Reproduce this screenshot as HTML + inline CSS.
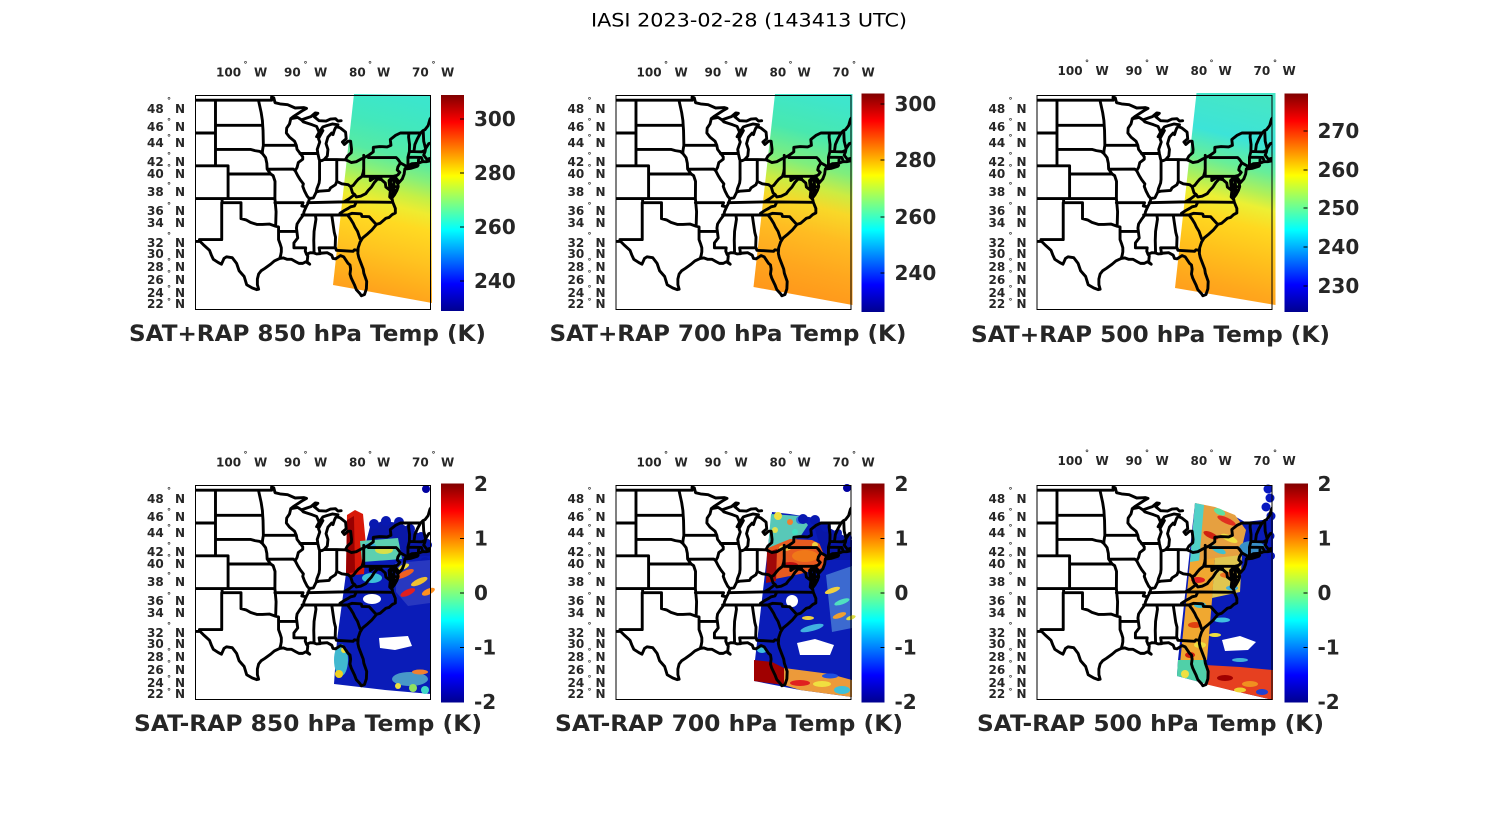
<!DOCTYPE html>
<html>
<head>
<meta charset="utf-8">
<style>
html,body{margin:0;padding:0;background:#fff;}
svg{display:block;}
.s{font-family:"DejaVu Sans","Liberation Sans",sans-serif;font-weight:bold;font-size:12px;fill:#262626;}
.d{font-family:"DejaVu Sans","Liberation Sans",sans-serif;font-weight:bold;font-size:8px;fill:#262626;}
.c{font-family:"DejaVu Sans","Liberation Sans",sans-serif;font-weight:bold;font-size:20px;fill:#262626;}
.t{font-family:"DejaVu Sans","Liberation Sans",sans-serif;font-weight:bold;font-size:22px;fill:#262626;}
.m{font-family:"DejaVu Sans","Liberation Sans",sans-serif;font-size:19px;fill:#000;}
</style>
</head>
<body>
<svg width="1500" height="825" viewBox="0 0 1500 825" xmlns="http://www.w3.org/2000/svg">
<defs>
<path id="map" fill="none" stroke="#000" stroke-width="2.9" stroke-linejoin="round" stroke-linecap="round" vector-effect="non-scaling-stroke" d="M-108 49L-95.15 49L-95.15 49.38L-94.8 49.3L-94.6 48.7L-93.8 48.55L-92.6 48.45L-91.4 48.05L-90 48.1L-89.6 48L-90.3 47.7L-91.6 47.05L-92.1 46.75L-91 46.9L-90.4 46.6L-89.5 46.85L-88.9 47L-88.2 47.45L-87.8 47.4L-88.4 47L-87.6 46.5L-86.5 46.45L-85.8 46.7L-85 46.75L-84.6 46.45L-84.1 46.5
M-84.6 46L-85.5 46.1L-86.4 45.9L-87 45.75L-87.6 45.1L-88 44.55L-87.5 44.9L-87 45.3L-87.5 44.6L-87.7 44.3L-87.5 43.9L-87.9 43L-87.8 42.5L-87.6 41.8L-87.5 41.65L-87.2 41.62L-86.8 41.76L-86.3 42.2L-86.2 43L-86.5 43.7L-86.2 44.5L-85.6 45L-85.4 44.8L-85.2 45.3L-85 45.65L-84.75 45.78L-84.2 45.6L-83.4 45.1L-83.3 44.3L-83.9 43.9L-83.6 43.6L-83 44L-82.6 44L-82.45 43L-82.5 42.6L-83.1 42.2L-83.45 41.73L-83 41.6L-82.5 41.4L-81.7 41.5L-81 41.8L-80.5 41.98L-79.8 42.25L-79 42.7L-79 43.25L-78 43.35L-76.8 43.3L-76.2 43.5L-76.3 44.2L-75.5 44.7L-74.7 45L-71.5 45L-71.1 45.3L-70.8 45.4L-70.3 45.9L-70 46.7L-69.3 47.45L-68.3 47.35L-67.8 47.1L-67.8 45.7L-67.1 45.1
M-87.6 45.1L-88 45.8L-88.7 46L-90.1 46.35L-90.4 46.6
M-67.1 45.1L-68 44.4L-69 44L-70.2 43.7L-70.7 43.1L-70.8 42.7L-71 42.3L-70.5 41.8L-70 41.9L-70 41.6L-70.6 41.5L-71.2 41.5L-71.9 41.3L-72.9 41.25L-73.7 40.9L-74 40.6L-74.1 40L-74.4 39.4L-74.95 38.93L-75.1 39.2L-75.5 39.6L-75.6 39.5L-75.2 38.9L-75.1 38.8L-75.05 38.45L-75.25 38L-75.65 37.45L-76 37.1L-75.9 37.6L-75.7 38.2L-76.3 38.2L-76 38.6L-76.3 38.9L-76.1 39.5L-76.5 39.2L-76.4 38.4L-76.3 37.9L-76.4 37.2L-76 36.9L-75.9 36.55L-75.5 35.8L-75.5 35.25L-76 35.05L-76.5 34.7L-77 34.6L-77.9 34L-78.5 33.85L-79.2 33.2L-79.9 32.7L-80.7 32.2L-81.1 31.7L-81.4 31L-81.45 30.3L-81.3 29.8L-81 29.2L-80.6 28.4L-80.5 27.9L-80.05 26.9L-80.1 26L-80.4 25.3L-80.9 25.15L-81.1 25.4L-81.7 25.9L-82 26.5L-82.5 27.3L-82.7 27.8L-82.6 28.4L-82.7 28.9L-83 29.1L-83.7 29.9L-84.2 30.05L-84.5 29.9L-85 29.65L-85.4 29.7L-85.6 30.1L-86.3 30.4L-87.2 30.35L-87.5 30.28L-88 30.25L-88.4 30.37L-89 30.4L-89.6 30.2L-89.4 30L-89.5 29.3L-89.1 29L-89.7 29.3L-90.2 29.1L-90.8 29.1L-91.3 29.3L-92 29.6L-92.7 29.6L-93.3 29.77L-93.85 29.7L-94.7 29.4L-95.3 29L-96.2 28.5L-96.8 28.2L-97.2 27.8L-97.4 27.2L-97.4 26.5L-97.2 25.95L-97.5 25.9L-98.2 26.1L-99.1 26.5L-99.5 27.5L-100.3 28.2L-100.7 29.1L-101.4 29.8L-102.3 29.9L-102.7 29.7L-103.1 29L-103.6 29.2L-104.4 29.6L-104.7 30.1L-105 30.7L-106 31.4L-106.5 31.78L-108 31.78
M-104.05 49L-104.05 41M-108 45L-104.05 45M-108 41L-102.05 41L-102.05 37M-108 37L-94.62 37M-103 37L-103 36.5L-100 36.5L-100 34.56M-106.6 32L-103.06 32L-103.06 36.5
M-100 34.56L-99.2 34.4L-98.5 34.1L-97.5 33.85L-96.6 33.85L-95.5 33.9L-94.5 33.63L-94.04 33.55L-94.04 32L-93.8 31.5L-93.6 31L-93.6 30.5L-93.7 30.1L-93.85 29.7
M-94.62 37L-94.43 35.4L-94.5 33.63M-104.05 45.94L-96.56 45.94
M-97.23 49L-96.8 47.5L-96.6 46.5L-96.56 45.94L-96.5 45.3L-96.45 43.5L-96.6 42.8L-96.6 42.5
M-104.05 43L-98.5 43L-97.8 42.85L-97 42.75L-96.6 42.5L-96.1 42L-95.9 41.3L-95.85 40.6L-95.3 40L-94.9 39.8L-94.6 39.1L-94.62 37
M-96.45 43.5L-91.22 43.5M-102.05 40L-95.3 40M-95.77 40.58L-91.7 40.6L-91.4 40.4
M-92.1 46.75L-92.3 46.1L-92.75 45.6L-92.8 45L-92.3 44.5L-91.5 44L-91.22 43.5L-91.1 43L-90.6 42.5L-90.2 42.1L-90.2 41.8L-90.9 41.4L-91.1 40.8L-91.4 40.4L-91 39.8L-90.6 39.3L-90.1 38.8L-90.2 38.5L-89.9 37.9L-89.5 37.3L-89.15 37L-89.3 36.5L-89.6 36.1L-90 35.4L-90.1 35L-90.6 34.5L-91.1 33.9L-91.2 33.4L-91.1 32.8L-91 32.2L-91.6 31.6L-91.6 31L-89.73 31L-89.8 30.6L-89.6 30.2
M-94.04 33L-91.15 33M-94.62 36.5L-90.15 36.5L-90.35 36.1L-89.7 36M-90.64 42.5L-87.8 42.5
M-87.53 41.7L-87.53 39.35L-87.6 38.9L-87.95 38.2L-88.05 37.8
M-89.15 37L-88.5 37.1L-88.05 37.8L-87.6 37.9L-86.8 37.95L-86 38L-85.8 38.3L-85 38.7L-84.8 39.1L-84 38.8L-83 38.7L-82.6 38.45L-82.2 38.6L-81.8 39L-81.4 39.35L-80.8 39.7L-80.6 40.2L-80.52 40.64
M-84.8 39.1L-84.8 41.7M-86.82 41.76L-84.8 41.76L-83.45 41.73M-80.52 39.72L-80.52 42.27
M-79.76 42.27L-79.76 42L-75.36 42L-75.1 41.8L-74.7 41.36L-75.1 40.85L-75.2 40.5L-74.8 40.2L-75.1 39.9L-75.5 39.7
M-74.7 41.36L-73.9 41M-80.52 39.72L-75.79 39.72L-75.4 39.8
M-79.48 39.72L-79.48 39.2L-79 39.45L-78.4 39.6L-77.8 39.5L-77.7 39.3L-78.3 39.4L-78.8 39L-79.3 38.4L-79.8 38L-80.2 37.6L-81 37.3L-81.7 37.2L-81.95 37.5L-82.3 37.7L-82.6 38.45
M-77.7 39.3L-77.1 38.9L-77 38.4L-76.3 38M-81.95 37.5L-82.8 37L-83.68 36.6
M-89.4 36.5L-83.68 36.6L-81.68 36.59L-75.9 36.55
M-81.68 36.59L-82 36.1L-82.6 36L-83 35.8L-83.6 35.55L-84.3 35.2L-84.32 35
M-90.3 35L-83.1 35L-82.4 35.2L-81.05 35.15L-80.9 35.1L-80.8 34.82L-79.67 34.8L-78.55 33.86
M-83.1 35L-82.6 34.5L-82.2 34L-81.9 33.5L-81.5 33L-81.1 32.1
M-88.2 35L-88.1 34.5L-88.4 33L-88.45 31.9L-88.4 30.37M-85.6 35L-85.2 32.9L-85 32.3L-85.05 31
M-87.45 30.3L-87.6 31L-85 31L-84.86 30.7L-82.2 30.57L-82 30.75L-81.5 30.7
M-73.35 45L-73.4 44.5L-73.25 43.6L-73.27 42.75L-73.5 42.05L-73.5 41.1L-73.65 41
M-73.27 42.75L-71.3 42.7L-70.9 42.85M-71.5 45L-72 44.3L-72.4 43.6L-72.55 42.73M-71.08 45.3L-71 44L-70.7 43.1
M-73.5 42.05L-71.38 42.02L-71.12 41.5M-71.8 42.02L-71.85 41.3
M-74 40.6L-73 40.7L-72 40.95L-71.9 41.05L-72.4 41L-73.3 40.95L-73.8 40.8
M-75.79 39.72L-75.7 38.45L-75.05 38.45M-75.24 38.03L-75.9 37.96"/>
<clipPath id="mc"><rect x="196" y="96" width="234" height="214"/></clipPath>
<linearGradient id="jet" x1="0" y1="1" x2="0" y2="0">
<stop offset="0" stop-color="#00008f"/><stop offset="0.125" stop-color="#0000ff"/><stop offset="0.375" stop-color="#00ffff"/><stop offset="0.625" stop-color="#ffff00"/><stop offset="0.875" stop-color="#ff0000"/><stop offset="1" stop-color="#800000"/>
</linearGradient>
<linearGradient id="g1" x1="0.56" y1="0" x2="0.44" y2="1">
<stop offset="0" stop-color="#3ce6cc"/><stop offset="0.14" stop-color="#42e8bc"/><stop offset="0.28" stop-color="#56eaa4"/><stop offset="0.37" stop-color="#88f078"/><stop offset="0.45" stop-color="#c4f046"/><stop offset="0.52" stop-color="#eeec30"/><stop offset="0.6" stop-color="#ffda22"/><stop offset="0.75" stop-color="#ffc420"/><stop offset="0.88" stop-color="#ffae1c"/><stop offset="1" stop-color="#ff9a1c"/>
</linearGradient>
<linearGradient id="g2" x1="0.56" y1="0" x2="0.44" y2="1">
<stop offset="0" stop-color="#3ee6cc"/><stop offset="0.18" stop-color="#48e8b0"/><stop offset="0.33" stop-color="#80ee7c"/><stop offset="0.43" stop-color="#ccec42"/><stop offset="0.52" stop-color="#f8d828"/><stop offset="0.65" stop-color="#ffbc22"/><stop offset="0.82" stop-color="#ffa61e"/><stop offset="1" stop-color="#ff941a"/>
</linearGradient>
<linearGradient id="g3" x1="0.56" y1="0" x2="0.44" y2="1">
<stop offset="0" stop-color="#46e6c6"/><stop offset="0.2" stop-color="#3ce4d8"/><stop offset="0.33" stop-color="#68ee98"/><stop offset="0.43" stop-color="#b0f058"/><stop offset="0.5" stop-color="#ecf034"/><stop offset="0.6" stop-color="#ffd820"/><stop offset="0.75" stop-color="#ffc01c"/><stop offset="0.9" stop-color="#ffa81c"/><stop offset="1" stop-color="#ff9c1c"/>
</linearGradient>
</defs>

<rect width="1500" height="825" fill="#fff"/>
<text class="m" x="749" y="26.5" text-anchor="middle" textLength="316" lengthAdjust="spacingAndGlyphs">IASI 2023-02-28 (143413 UTC)</text>

<!-- panel 4 data -->
<polygon points="347,566 365,560 400,557 431,555 431,694 385,690 334,684 337,640" fill="#0a1cb8"/>
<polygon points="366,542 370,527 382,521 400,523 411,529 430,540 430,556 400,557 366,560" fill="#0a18a8"/>
<g fill="#0818b0"><circle cx="374" cy="524" r="5"/><circle cx="386" cy="521" r="5"/><circle cx="399" cy="522" r="5"/><circle cx="410" cy="529" r="5"/><circle cx="421" cy="536" r="4"/><circle cx="428" cy="545" r="4"/><circle cx="425" cy="562" r="5"/></g>
<polygon points="347,515 355,510 363,514 366,545 364,574 346,576" fill="#d81808"/>
<polygon points="347,520 354,516 355,572 346,574" fill="#980000"/>
<polygon points="360,541 398,538 402,559 362,562" fill="#5cd0b0"/>
<ellipse cx="384" cy="550" rx="9" ry="4" fill="#d8e048"/>
<ellipse cx="370" cy="546" rx="6" ry="3" fill="#3cb0e0"/>
<ellipse cx="372" cy="578" rx="10" ry="5" fill="#3cc0d8"/>
<polygon points="395,563 430,560 430,603 408,606 396,592" fill="#2838c0"/>
<g transform="rotate(-25 412 585)">
<ellipse cx="410" cy="572" rx="10" ry="3" fill="#f06020"/><ellipse cx="420" cy="585" rx="9" ry="3" fill="#f0c030"/><ellipse cx="405" cy="590" rx="8" ry="3" fill="#e02020"/><ellipse cx="424" cy="598" rx="7" ry="3" fill="#ff9020"/><ellipse cx="412" cy="565" rx="6" ry="2.5" fill="#f0e040"/>
</g>
<ellipse cx="372" cy="599" rx="9" ry="5" fill="#fff"/>
<polygon points="379,638 408,636 412,646 395,650 380,648" fill="#fff"/>
<ellipse cx="341" cy="660" rx="7" ry="16" fill="#40b8d0"/>
<circle cx="339" cy="674" r="4" fill="#f0d020"/><circle cx="344" cy="650" r="3" fill="#f0e040"/>
<ellipse cx="410" cy="679" rx="18" ry="7" fill="#4898c8"/>
<circle cx="398" cy="686" r="3" fill="#f0e040"/><circle cx="413" cy="688" r="4" fill="#90e060"/><circle cx="425" cy="690" r="4" fill="#40d8c8"/>
<ellipse cx="420" cy="672" rx="8" ry="2.5" fill="#f08030"/>
<circle cx="426" cy="489" r="4" fill="#0000a0"/>

<!-- panel 5 data -->
<polygon points="772,512 790,514 815,518 835,532 852,540 852,697 800,690 754,681 755,660" fill="#0a1cb8"/>
<polygon points="771,514 800,516 808,525 800,537 782,546 768,548" fill="#58c8b8"/>
<circle cx="778" cy="516" r="4" fill="#f0e040"/><circle cx="790" cy="522" r="3" fill="#f08030"/><circle cx="800" cy="520" r="4" fill="#3070e0"/><circle cx="775" cy="530" r="3" fill="#e0e050"/><circle cx="795" cy="532" r="3" fill="#40e0c0"/>
<polygon points="768,548 790,539 812,540 826,547 823,568 800,574 770,580" fill="#e85a20"/>
<polygon points="767,552 777,549 776,581 766,583" fill="#a00808"/>
<ellipse cx="805" cy="556" rx="13" ry="6" fill="#f07818"/>
<ellipse cx="790" cy="565" rx="8" ry="3" fill="#c01010"/>
<circle cx="815" cy="545" r="3" fill="#f0d040"/>
<ellipse cx="785" cy="548" rx="6" ry="3" fill="#f0c040"/>
<polygon points="812,518 835,531 852,540 852,560 826,560 818,540" fill="#0816a8"/>
<g fill="#0818b0"><circle cx="803" cy="519" r="5"/><circle cx="815" cy="520" r="5"/><circle cx="826" cy="527" r="5"/><circle cx="838" cy="533" r="4"/><circle cx="848" cy="538" r="4"/></g>
<polygon points="826,575 852,566 852,628 832,632" fill="#3c6ad0"/>
<g transform="rotate(-20 842 605)">
<ellipse cx="838" cy="588" rx="8" ry="2.5" fill="#f0d040"/><ellipse cx="843" cy="602" rx="8" ry="2.5" fill="#50e0c0"/><ellipse cx="836" cy="614" rx="7" ry="2.5" fill="#f0a030"/><ellipse cx="846" cy="620" rx="5" ry="2" fill="#e0e040"/>
</g>
<ellipse cx="812" cy="628" rx="12" ry="3" fill="#40b0e0" transform="rotate(-15 812 628)"/>
<ellipse cx="808" cy="618" rx="6" ry="2" fill="#f0d040"/>
<circle cx="792" cy="601" r="6" fill="#fff"/>
<polygon points="797,643 815,639 834,645 830,655 800,655" fill="#fff"/>
<polygon points="754,660 772,662 786,669 784,685 754,681" fill="#a00000"/>
<polygon points="784,668 830,674 852,680 852,697 800,690 784,685" fill="#ec9a3a"/>
<ellipse cx="800" cy="683" rx="10" ry="3" fill="#e02020"/>
<ellipse cx="822" cy="684" rx="9" ry="3" fill="#f0e040"/>
<ellipse cx="842" cy="690" rx="8" ry="4" fill="#40c0d8"/>
<ellipse cx="830" cy="676" rx="8" ry="2.5" fill="#2050e0"/>
<ellipse cx="762" cy="650" rx="5" ry="3" fill="#40c0e0"/>
<circle cx="847" cy="488" r="4" fill="#0000a0"/>

<!-- panel 6 data -->
<polygon points="1195,503 1227,512 1245,522 1262,520 1273,520 1273,700 1230,690 1177,676 1178,660" fill="#0a1cb8"/>
<g fill="#0818c0"><circle cx="1268" cy="489" r="4.5"/><circle cx="1270" cy="498" r="4.5"/><circle cx="1266" cy="507" r="4.5"/><circle cx="1271" cy="516" r="4.5"/><circle cx="1265" cy="526" r="4.5"/><circle cx="1270" cy="536" r="4.5"/><circle cx="1267" cy="546" r="4.5"/><circle cx="1271" cy="556" r="4"/></g>
<polygon points="1195,503 1215,507 1235,515 1246,530 1240,556 1215,560 1190,562" fill="#e6a040"/>
<polygon points="1195,503 1204,505 1199,562 1190,562" fill="#50d0c8"/>
<g transform="rotate(25 1222 535)">
<ellipse cx="1220" cy="520" rx="10" ry="3" fill="#e03020"/><ellipse cx="1230" cy="535" rx="9" ry="3" fill="#f0e040"/><ellipse cx="1212" cy="540" rx="8" ry="3" fill="#d02010"/><ellipse cx="1225" cy="550" rx="8" ry="3" fill="#40c0d0"/><ellipse cx="1210" cy="515" rx="6" ry="3" fill="#60e0a0"/>
</g>
<ellipse cx="1252" cy="548" rx="13" ry="7" fill="#3890c8"/>
<polygon points="1190,562 1215,558 1212,600 1207,660 1180,664" fill="#f0a830"/>
<ellipse cx="1198" cy="580" rx="7" ry="3" fill="#e02020"/>
<ellipse cx="1200" cy="605" rx="6" ry="3" fill="#40c0d0"/>
<ellipse cx="1195" cy="625" rx="7" ry="3" fill="#e04010"/>
<ellipse cx="1200" cy="645" rx="6" ry="3" fill="#f0e040"/>
<ellipse cx="1190" cy="655" rx="5" ry="3" fill="#d02010"/>
<polygon points="1215,558 1242,555 1240,592 1212,598" fill="#e0c650"/>
<ellipse cx="1228" cy="575" rx="8" ry="3" fill="#f07020"/>
<ellipse cx="1232" cy="588" rx="6" ry="2.5" fill="#40b0e0"/>
<ellipse cx="1222" cy="620" rx="8" ry="2.5" fill="#40c0e0"/>
<ellipse cx="1215" cy="635" rx="6" ry="2" fill="#f0e040"/>
<ellipse cx="1240" cy="660" rx="8" ry="2" fill="#40b0d8"/>
<polygon points="1205,665 1240,667 1273,670 1273,700 1230,690 1205,684" fill="#e64020"/>
<ellipse cx="1225" cy="678" rx="8" ry="3" fill="#a00000"/>
<ellipse cx="1250" cy="684" rx="8" ry="3" fill="#f09020"/>
<ellipse cx="1262" cy="692" rx="6" ry="3" fill="#2040d0"/>
<ellipse cx="1240" cy="690" rx="6" ry="2.5" fill="#f0d030"/>
<polygon points="1178,660 1206,660 1207,684 1177,676" fill="#50d0a8"/>
<circle cx="1185" cy="674" r="4" fill="#f0e040"/>
<polygon points="1222,640 1240,636 1256,642 1248,650 1225,651" fill="#fff"/>

<!-- PANEL 1 -->
<g transform="translate(0,0)">
<polygon points="354,94 431,95 432,303 333,285" fill="url(#g1)"/>
<g clip-path="url(#mc)"><use href="#map" transform="matrix(6.3 0 0 -8.2 871 502)"/></g>
<rect x="195.5" y="95.5" width="235" height="214" fill="none" stroke="#000" stroke-width="1"/>
<rect x="441" y="95" width="23" height="216" fill="url(#jet)"/>
<g stroke="#000" stroke-width="1"><line x1="460" y1="119" x2="464" y2="119"/><line x1="460" y1="173" x2="464" y2="173"/><line x1="460" y1="227" x2="464" y2="227"/><line x1="460" y1="281" x2="464" y2="281"/></g>
<text class="c"><tspan x="474" y="126">300</tspan><tspan x="474" y="180">280</tspan><tspan x="474" y="234">260</tspan><tspan x="474" y="288">240</tspan></text>
<text class="s"><tspan x="216" y="76.5">100</tspan><tspan x="254" y="76.5">W</tspan><tspan x="284" y="76.5">90</tspan><tspan x="314" y="76.5">W</tspan><tspan x="349" y="76.5">80</tspan><tspan x="377" y="76.5">W</tspan><tspan x="412" y="76.5">70</tspan><tspan x="441" y="76.5">W</tspan></text>
<text class="d"><tspan x="243.5" y="67">°</tspan><tspan x="303.5" y="67">°</tspan><tspan x="368" y="67">°</tspan><tspan x="431.5" y="67">°</tspan></text>
<text class="s"><tspan x="147" y="113">48</tspan><tspan x="175" y="113">N</tspan><tspan x="147" y="131">46</tspan><tspan x="175" y="131">N</tspan><tspan x="147" y="147">44</tspan><tspan x="175" y="147">N</tspan><tspan x="147" y="166">42</tspan><tspan x="175" y="166">N</tspan><tspan x="147" y="178">40</tspan><tspan x="175" y="178">N</tspan><tspan x="147" y="196">38</tspan><tspan x="175" y="196">N</tspan><tspan x="147" y="215">36</tspan><tspan x="175" y="215">N</tspan><tspan x="147" y="227">34</tspan><tspan x="175" y="227">N</tspan><tspan x="147" y="247">32</tspan><tspan x="175" y="247">N</tspan><tspan x="147" y="258">30</tspan><tspan x="175" y="258">N</tspan><tspan x="147" y="271">28</tspan><tspan x="175" y="271">N</tspan><tspan x="147" y="284">26</tspan><tspan x="175" y="284">N</tspan><tspan x="147" y="297">24</tspan><tspan x="175" y="297">N</tspan><tspan x="147" y="308">22</tspan><tspan x="175" y="308">N</tspan></text>
<text class="d"><tspan x="167" y="103">°</tspan><tspan x="167" y="124">°</tspan><tspan x="167" y="140">°</tspan><tspan x="167" y="158">°</tspan><tspan x="167" y="170">°</tspan><tspan x="167" y="188">°</tspan><tspan x="167" y="208">°</tspan><tspan x="167" y="238">°</tspan><tspan x="167" y="264">°</tspan><tspan x="167" y="276">°</tspan><tspan x="167" y="291">°</tspan><tspan x="167" y="304">°</tspan></text>
<text class="t" x="307.5" y="341" text-anchor="middle" textLength="357" lengthAdjust="spacingAndGlyphs">SAT+RAP 850 hPa Temp (K)</text>
</g>

<!-- PANEL 2 -->
<g transform="translate(420.5,0)">
<polygon points="354.5,94 432,94 432,305 333,287" fill="url(#g2)"/>
<g clip-path="url(#mc)"><use href="#map" transform="matrix(6.3 0 0 -8.2 871 502)"/></g>
<rect x="195.5" y="95.5" width="235" height="214" fill="none" stroke="#000" stroke-width="1"/>
<rect x="441" y="93.5" width="23" height="218.5" fill="url(#jet)"/>
<g stroke="#000" stroke-width="1"><line x1="460" y1="104" x2="464" y2="104"/><line x1="460" y1="160" x2="464" y2="160"/><line x1="460" y1="217" x2="464" y2="217"/><line x1="460" y1="273" x2="464" y2="273"/></g>
<text class="c"><tspan x="474" y="111">300</tspan><tspan x="474" y="167">280</tspan><tspan x="474" y="224">260</tspan><tspan x="474" y="280">240</tspan></text>
<text class="s"><tspan x="216" y="76.5">100</tspan><tspan x="254" y="76.5">W</tspan><tspan x="284" y="76.5">90</tspan><tspan x="314" y="76.5">W</tspan><tspan x="349" y="76.5">80</tspan><tspan x="377" y="76.5">W</tspan><tspan x="412" y="76.5">70</tspan><tspan x="441" y="76.5">W</tspan></text>
<text class="d"><tspan x="243.5" y="67">°</tspan><tspan x="303.5" y="67">°</tspan><tspan x="368" y="67">°</tspan><tspan x="431.5" y="67">°</tspan></text>
<text class="s"><tspan x="147" y="113">48</tspan><tspan x="175" y="113">N</tspan><tspan x="147" y="131">46</tspan><tspan x="175" y="131">N</tspan><tspan x="147" y="147">44</tspan><tspan x="175" y="147">N</tspan><tspan x="147" y="166">42</tspan><tspan x="175" y="166">N</tspan><tspan x="147" y="178">40</tspan><tspan x="175" y="178">N</tspan><tspan x="147" y="196">38</tspan><tspan x="175" y="196">N</tspan><tspan x="147" y="215">36</tspan><tspan x="175" y="215">N</tspan><tspan x="147" y="227">34</tspan><tspan x="175" y="227">N</tspan><tspan x="147" y="247">32</tspan><tspan x="175" y="247">N</tspan><tspan x="147" y="258">30</tspan><tspan x="175" y="258">N</tspan><tspan x="147" y="271">28</tspan><tspan x="175" y="271">N</tspan><tspan x="147" y="284">26</tspan><tspan x="175" y="284">N</tspan><tspan x="147" y="297">24</tspan><tspan x="175" y="297">N</tspan><tspan x="147" y="308">22</tspan><tspan x="175" y="308">N</tspan></text>
<text class="d"><tspan x="167" y="103">°</tspan><tspan x="167" y="124">°</tspan><tspan x="167" y="140">°</tspan><tspan x="167" y="158">°</tspan><tspan x="167" y="170">°</tspan><tspan x="167" y="188">°</tspan><tspan x="167" y="208">°</tspan><tspan x="167" y="238">°</tspan><tspan x="167" y="264">°</tspan><tspan x="167" y="276">°</tspan><tspan x="167" y="291">°</tspan><tspan x="167" y="304">°</tspan></text>
<text class="t" x="307.5" y="341" text-anchor="middle" textLength="357" lengthAdjust="spacingAndGlyphs">SAT+RAP 700 hPa Temp (K)</text>
</g>

<!-- PANEL 3 -->
<g transform="translate(841.5,0)">
<polygon points="355,93 434,93 434,305 333.5,288" fill="url(#g3)"/>
<g clip-path="url(#mc)"><use href="#map" transform="matrix(6.3 0 0 -8.2 871 502)"/></g>
<rect x="195.5" y="95.5" width="235" height="214" fill="none" stroke="#000" stroke-width="1"/>
<rect x="443" y="93.5" width="23.5" height="218.5" fill="url(#jet)"/>
<g stroke="#000" stroke-width="1"><line x1="462" y1="131" x2="466" y2="131"/><line x1="462" y1="170" x2="466" y2="170"/><line x1="462" y1="208" x2="466" y2="208"/><line x1="462" y1="247" x2="466" y2="247"/><line x1="462" y1="286" x2="466" y2="286"/></g>
<text class="c"><tspan x="476" y="138">270</tspan><tspan x="476" y="177">260</tspan><tspan x="476" y="215">250</tspan><tspan x="476" y="254">240</tspan><tspan x="476" y="293">230</tspan></text>
<text class="s"><tspan x="216" y="75">100</tspan><tspan x="254" y="75">W</tspan><tspan x="284" y="75">90</tspan><tspan x="314" y="75">W</tspan><tspan x="349" y="75">80</tspan><tspan x="377" y="75">W</tspan><tspan x="412" y="75">70</tspan><tspan x="441" y="75">W</tspan></text>
<text class="d"><tspan x="243.5" y="65.5">°</tspan><tspan x="303.5" y="65.5">°</tspan><tspan x="368" y="65.5">°</tspan><tspan x="431.5" y="65.5">°</tspan></text>
<text class="s"><tspan x="147" y="113">48</tspan><tspan x="175" y="113">N</tspan><tspan x="147" y="131">46</tspan><tspan x="175" y="131">N</tspan><tspan x="147" y="147">44</tspan><tspan x="175" y="147">N</tspan><tspan x="147" y="166">42</tspan><tspan x="175" y="166">N</tspan><tspan x="147" y="178">40</tspan><tspan x="175" y="178">N</tspan><tspan x="147" y="196">38</tspan><tspan x="175" y="196">N</tspan><tspan x="147" y="215">36</tspan><tspan x="175" y="215">N</tspan><tspan x="147" y="227">34</tspan><tspan x="175" y="227">N</tspan><tspan x="147" y="247">32</tspan><tspan x="175" y="247">N</tspan><tspan x="147" y="258">30</tspan><tspan x="175" y="258">N</tspan><tspan x="147" y="271">28</tspan><tspan x="175" y="271">N</tspan><tspan x="147" y="284">26</tspan><tspan x="175" y="284">N</tspan><tspan x="147" y="297">24</tspan><tspan x="175" y="297">N</tspan><tspan x="147" y="308">22</tspan><tspan x="175" y="308">N</tspan></text>
<text class="d"><tspan x="167" y="103">°</tspan><tspan x="167" y="124">°</tspan><tspan x="167" y="140">°</tspan><tspan x="167" y="158">°</tspan><tspan x="167" y="170">°</tspan><tspan x="167" y="188">°</tspan><tspan x="167" y="208">°</tspan><tspan x="167" y="238">°</tspan><tspan x="167" y="264">°</tspan><tspan x="167" y="276">°</tspan><tspan x="167" y="291">°</tspan><tspan x="167" y="304">°</tspan></text>
<text class="t" x="309" y="342" text-anchor="middle" textLength="359" lengthAdjust="spacingAndGlyphs">SAT+RAP 500 hPa Temp (K)</text>
</g>

<!-- PANEL 4 -->
<g transform="translate(0,390)">
<g clip-path="url(#mc)"><use href="#map" transform="matrix(6.3 0 0 -8.2 871 502)"/></g>
<rect x="195.5" y="95.5" width="235" height="214" fill="none" stroke="#000" stroke-width="1"/>
<rect x="441" y="93.5" width="23" height="219" fill="url(#jet)"/>
<g stroke="#000" stroke-width="1"><line x1="460" y1="148.5" x2="464" y2="148.5"/><line x1="460" y1="203" x2="464" y2="203"/><line x1="460" y1="257.5" x2="464" y2="257.5"/></g>
<text class="c"><tspan x="474" y="101">2</tspan><tspan x="474" y="155.5">1</tspan><tspan x="474" y="210">0</tspan><tspan x="474" y="264.5">-1</tspan><tspan x="474" y="319">-2</tspan></text>
<text class="s"><tspan x="216" y="76.5">100</tspan><tspan x="254" y="76.5">W</tspan><tspan x="284" y="76.5">90</tspan><tspan x="314" y="76.5">W</tspan><tspan x="349" y="76.5">80</tspan><tspan x="377" y="76.5">W</tspan><tspan x="412" y="76.5">70</tspan><tspan x="441" y="76.5">W</tspan></text>
<text class="d"><tspan x="243.5" y="67">°</tspan><tspan x="303.5" y="67">°</tspan><tspan x="368" y="67">°</tspan><tspan x="431.5" y="67">°</tspan></text>
<text class="s"><tspan x="147" y="113">48</tspan><tspan x="175" y="113">N</tspan><tspan x="147" y="131">46</tspan><tspan x="175" y="131">N</tspan><tspan x="147" y="147">44</tspan><tspan x="175" y="147">N</tspan><tspan x="147" y="166">42</tspan><tspan x="175" y="166">N</tspan><tspan x="147" y="178">40</tspan><tspan x="175" y="178">N</tspan><tspan x="147" y="196">38</tspan><tspan x="175" y="196">N</tspan><tspan x="147" y="215">36</tspan><tspan x="175" y="215">N</tspan><tspan x="147" y="227">34</tspan><tspan x="175" y="227">N</tspan><tspan x="147" y="247">32</tspan><tspan x="175" y="247">N</tspan><tspan x="147" y="258">30</tspan><tspan x="175" y="258">N</tspan><tspan x="147" y="271">28</tspan><tspan x="175" y="271">N</tspan><tspan x="147" y="284">26</tspan><tspan x="175" y="284">N</tspan><tspan x="147" y="297">24</tspan><tspan x="175" y="297">N</tspan><tspan x="147" y="308">22</tspan><tspan x="175" y="308">N</tspan></text>
<text class="d"><tspan x="167" y="103">°</tspan><tspan x="167" y="124">°</tspan><tspan x="167" y="140">°</tspan><tspan x="167" y="158">°</tspan><tspan x="167" y="170">°</tspan><tspan x="167" y="188">°</tspan><tspan x="167" y="208">°</tspan><tspan x="167" y="238">°</tspan><tspan x="167" y="264">°</tspan><tspan x="167" y="276">°</tspan><tspan x="167" y="291">°</tspan><tspan x="167" y="304">°</tspan></text>
<text class="t" x="308" y="341" text-anchor="middle" textLength="348" lengthAdjust="spacingAndGlyphs">SAT-RAP 850 hPa Temp (K)</text>
</g>

<!-- PANEL 5 -->
<g transform="translate(420.5,390)">
<g clip-path="url(#mc)"><use href="#map" transform="matrix(6.3 0 0 -8.2 871 502)"/></g>
<rect x="195.5" y="95.5" width="235" height="214" fill="none" stroke="#000" stroke-width="1"/>
<rect x="441" y="93.5" width="23" height="219" fill="url(#jet)"/>
<g stroke="#000" stroke-width="1"><line x1="460" y1="148.5" x2="464" y2="148.5"/><line x1="460" y1="203" x2="464" y2="203"/><line x1="460" y1="257.5" x2="464" y2="257.5"/></g>
<text class="c"><tspan x="474" y="101">2</tspan><tspan x="474" y="155.5">1</tspan><tspan x="474" y="210">0</tspan><tspan x="474" y="264.5">-1</tspan><tspan x="474" y="319">-2</tspan></text>
<text class="s"><tspan x="216" y="76.5">100</tspan><tspan x="254" y="76.5">W</tspan><tspan x="284" y="76.5">90</tspan><tspan x="314" y="76.5">W</tspan><tspan x="349" y="76.5">80</tspan><tspan x="377" y="76.5">W</tspan><tspan x="412" y="76.5">70</tspan><tspan x="441" y="76.5">W</tspan></text>
<text class="d"><tspan x="243.5" y="67">°</tspan><tspan x="303.5" y="67">°</tspan><tspan x="368" y="67">°</tspan><tspan x="431.5" y="67">°</tspan></text>
<text class="s"><tspan x="147" y="113">48</tspan><tspan x="175" y="113">N</tspan><tspan x="147" y="131">46</tspan><tspan x="175" y="131">N</tspan><tspan x="147" y="147">44</tspan><tspan x="175" y="147">N</tspan><tspan x="147" y="166">42</tspan><tspan x="175" y="166">N</tspan><tspan x="147" y="178">40</tspan><tspan x="175" y="178">N</tspan><tspan x="147" y="196">38</tspan><tspan x="175" y="196">N</tspan><tspan x="147" y="215">36</tspan><tspan x="175" y="215">N</tspan><tspan x="147" y="227">34</tspan><tspan x="175" y="227">N</tspan><tspan x="147" y="247">32</tspan><tspan x="175" y="247">N</tspan><tspan x="147" y="258">30</tspan><tspan x="175" y="258">N</tspan><tspan x="147" y="271">28</tspan><tspan x="175" y="271">N</tspan><tspan x="147" y="284">26</tspan><tspan x="175" y="284">N</tspan><tspan x="147" y="297">24</tspan><tspan x="175" y="297">N</tspan><tspan x="147" y="308">22</tspan><tspan x="175" y="308">N</tspan></text>
<text class="d"><tspan x="167" y="103">°</tspan><tspan x="167" y="124">°</tspan><tspan x="167" y="140">°</tspan><tspan x="167" y="158">°</tspan><tspan x="167" y="170">°</tspan><tspan x="167" y="188">°</tspan><tspan x="167" y="208">°</tspan><tspan x="167" y="238">°</tspan><tspan x="167" y="264">°</tspan><tspan x="167" y="276">°</tspan><tspan x="167" y="291">°</tspan><tspan x="167" y="304">°</tspan></text>
<text class="t" x="308.5" y="341" text-anchor="middle" textLength="348" lengthAdjust="spacingAndGlyphs">SAT-RAP 700 hPa Temp (K)</text>
</g>

<!-- PANEL 6 -->
<g transform="translate(841.5,390)">
<g clip-path="url(#mc)"><use href="#map" transform="matrix(6.3 0 0 -8.2 871 502)"/></g>
<rect x="195.5" y="95.5" width="235" height="214" fill="none" stroke="#000" stroke-width="1"/>
<rect x="443" y="93.5" width="23.5" height="219" fill="url(#jet)"/>
<g stroke="#000" stroke-width="1"><line x1="462" y1="148.5" x2="466" y2="148.5"/><line x1="462" y1="203" x2="466" y2="203"/><line x1="462" y1="257.5" x2="466" y2="257.5"/></g>
<text class="c"><tspan x="476" y="101">2</tspan><tspan x="476" y="155.5">1</tspan><tspan x="476" y="210">0</tspan><tspan x="476" y="264.5">-1</tspan><tspan x="476" y="319">-2</tspan></text>
<text class="s"><tspan x="216" y="75">100</tspan><tspan x="254" y="75">W</tspan><tspan x="284" y="75">90</tspan><tspan x="314" y="75">W</tspan><tspan x="349" y="75">80</tspan><tspan x="377" y="75">W</tspan><tspan x="412" y="75">70</tspan><tspan x="441" y="75">W</tspan></text>
<text class="d"><tspan x="243.5" y="65.5">°</tspan><tspan x="303.5" y="65.5">°</tspan><tspan x="368" y="65.5">°</tspan><tspan x="431.5" y="65.5">°</tspan></text>
<text class="s"><tspan x="147" y="113">48</tspan><tspan x="175" y="113">N</tspan><tspan x="147" y="131">46</tspan><tspan x="175" y="131">N</tspan><tspan x="147" y="147">44</tspan><tspan x="175" y="147">N</tspan><tspan x="147" y="166">42</tspan><tspan x="175" y="166">N</tspan><tspan x="147" y="178">40</tspan><tspan x="175" y="178">N</tspan><tspan x="147" y="196">38</tspan><tspan x="175" y="196">N</tspan><tspan x="147" y="215">36</tspan><tspan x="175" y="215">N</tspan><tspan x="147" y="227">34</tspan><tspan x="175" y="227">N</tspan><tspan x="147" y="247">32</tspan><tspan x="175" y="247">N</tspan><tspan x="147" y="258">30</tspan><tspan x="175" y="258">N</tspan><tspan x="147" y="271">28</tspan><tspan x="175" y="271">N</tspan><tspan x="147" y="284">26</tspan><tspan x="175" y="284">N</tspan><tspan x="147" y="297">24</tspan><tspan x="175" y="297">N</tspan><tspan x="147" y="308">22</tspan><tspan x="175" y="308">N</tspan></text>
<text class="d"><tspan x="167" y="103">°</tspan><tspan x="167" y="124">°</tspan><tspan x="167" y="140">°</tspan><tspan x="167" y="158">°</tspan><tspan x="167" y="170">°</tspan><tspan x="167" y="188">°</tspan><tspan x="167" y="208">°</tspan><tspan x="167" y="238">°</tspan><tspan x="167" y="264">°</tspan><tspan x="167" y="276">°</tspan><tspan x="167" y="291">°</tspan><tspan x="167" y="304">°</tspan></text>
<text class="t" x="309" y="341" text-anchor="middle" textLength="347" lengthAdjust="spacingAndGlyphs">SAT-RAP 500 hPa Temp (K)</text>
</g>
</svg>
</body>
</html>
